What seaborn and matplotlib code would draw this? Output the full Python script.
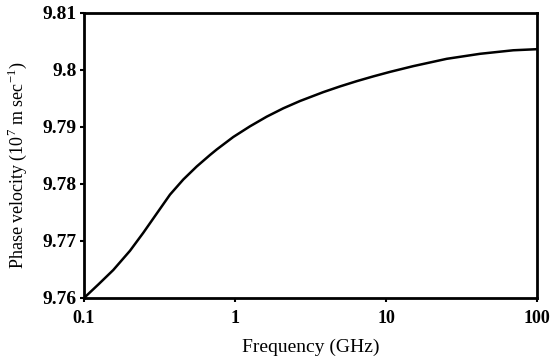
import matplotlib
matplotlib.use("Agg")
import matplotlib.pyplot as plt
import seaborn as sns
import pandas as pd

frequency_ghz = [0.1, 0.125, 0.1563, 0.2016, 0.2470, 0.3031, 0.3712, 0.4546, 0.5577, 0.6831,
                 0.7564, 0.9743, 1.257, 1.621, 2.089, 2.695, 3.844, 4.960, 6.397, 8.240,
                 10.63, 15.17, 25.23, 41.93, 69.66, 100.0]
phase_velocity = [9.76000, 9.76242, 9.76491, 9.76828, 9.77144, 9.77481, 9.77814, 9.78079, 9.78307, 9.78509,
                  9.78605, 9.78825, 9.79012, 9.79181, 9.79328, 9.79456, 9.79612, 9.79712, 9.79804, 9.79888,
                  9.79967, 9.80068, 9.80196, 9.80284, 9.80346, 9.80365]
x_ticks = [0.1, 1, 10, 100]
x_tick_labels = ["0.1", "1", "10", "100"]
y_ticks = [9.76, 9.77, 9.78, 9.79, 9.80, 9.81]
y_tick_labels = ["9.76", "9.77", "9.78", "9.79", "9.8", "9.81"]

df = pd.DataFrame({"f": frequency_ghz, "v": phase_velocity})

sns.set_theme(style="white")
plt.rcParams["font.family"] = ["Liberation Serif", "DejaVu Serif"]
plt.rcParams["mathtext.fontset"] = "custom"
plt.rcParams["mathtext.rm"] = "Liberation Serif"

fig = plt.figure(figsize=(5.5, 3.58), dpi=100)
ax = fig.add_axes([0.1527, 0.1676, 0.8237, 0.7961])
sns.lineplot(data=df, x="f", y="v", ax=ax, color="black", linewidth=1.8)
ax.set_xscale("log")
ax.set_xlim(0.1, 100)
ax.set_ylim(9.76, 9.81)
ax.set_xticks(x_ticks)
ax.set_xticklabels(x_tick_labels)
ax.minorticks_off()
ax.set_yticks(y_ticks)
ax.set_yticklabels(y_tick_labels)
for lab in ax.get_xticklabels():
    lab.set_fontweight("bold")
    lab.set_fontsize(13)
    lab.set_color("black")
for lab in ax.get_yticklabels():
    lab.set_fontweight("bold")
    lab.set_fontsize(14)
    lab.set_color("black")
ax.tick_params(axis="both", direction="out", length=3, width=1.5, color="black",
               bottom=True, left=True)
ax.tick_params(axis="x", pad=6)
ax.tick_params(axis="y", pad=2)
for sp in ax.spines.values():
    sp.set_linewidth(2)
    sp.set_color("black")
ax.set_xlabel("Frequency (GHz)", fontsize=14, color="black", labelpad=8)
ax.set_ylabel("Phase velocity (10$^{7}$ m sec$^{-1}$)", fontsize=13, color="black")
ax.yaxis.set_label_coords(-0.122, 0.467)
fig.savefig("out.png", dpi=100)
